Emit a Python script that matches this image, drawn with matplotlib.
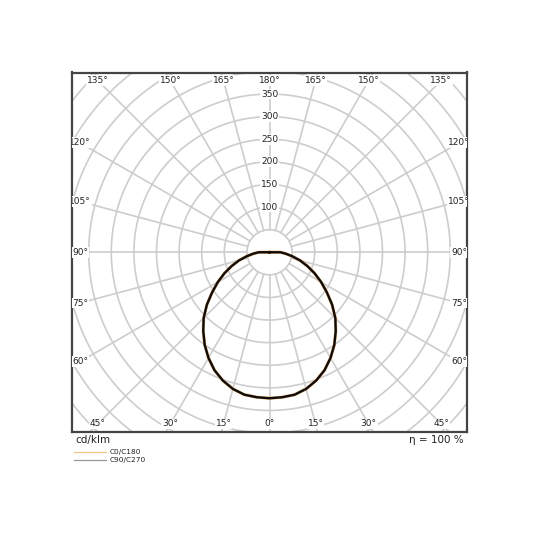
import numpy as np
import matplotlib
matplotlib.use("Agg")
import matplotlib.pyplot as plt

# Luminous intensity data (cd/klm), gamma angle from nadir
gamma = [0, 5, 10, 15, 20, 25, 30, 35, 40, 45, 50, 55, 60, 65, 70, 75, 80, 85, 90,
         95, 120, 140, 160, 180]
c0_c180 = [323, 322, 320, 313, 302, 288, 270, 250, 228, 206, 181, 155, 132, 110, 89, 70, 51, 36, 24,
           0, 0, 0, 0, 0]
c90_c270 = [323, 322, 320, 313, 302, 288, 270, 250, 228, 206, 181, 155, 132, 110, 89, 70, 51, 36, 24,
            0, 0, 0, 0, 0]
radial_labels = [100, 150, 200, 250, 300, 350]
angle_ticks = [0, 15, 30, 45, 60, 75, 90, 105, 120, 135, 150, 165, 180]
legend_names = ["C0/C180", "C90/C270"]
unit_text = "cd/klm"
eta_text = "η = 100 %"

W, H = 540, 540
fig = plt.figure(figsize=(5.4, 5.4), dpi=100)
x0, x1, y0, y1 = 72, 467, 72.5, 432
ax = fig.add_axes([x0 / W, 1 - y1 / H, (x1 - x0) / W, (y1 - y0) / H])
scale = 0.452  # px per cd
XL = (x1 - x0) / 2 / scale
YL = (y1 - y0) / 2 / scale
ax.set_xlim(-XL, XL)
ax.set_ylim(-YL, YL)
ax.set_aspect('equal')
ax.set_xticks([])
ax.set_yticks([])
for s in ax.spines.values():
    s.set_color('#444444')
    s.set_linewidth(1.6)

gc = '#cdcdcd'
glw = 1.2
# circles every 50 cd
t = np.linspace(0, 2 * np.pi, 400)
for r in np.arange(50, 700, 50):
    ax.plot(r * np.cos(t), r * np.sin(t), color=gc, lw=glw, zorder=1)
# spokes every 15 deg
for a in range(0, 360, 15):
    ar = np.radians(a)
    ax.plot([50 * np.sin(ar), 800 * np.sin(ar)], [-50 * np.cos(ar), -800 * np.cos(ar)],
            color=gc, lw=glw, zorder=1)

bbox = dict(boxstyle='square,pad=0.1', fc='white', ec='none')
for r in radial_labels:
    ax.text(0, r, str(r), ha='center', va='center', fontsize=6.5, color='#222222',
            bbox=bbox, zorder=3)

inset = 8 / scale
for a in angle_ticks:
    for side in ([1] if a in (0, 180) else [1, -1]):
        ar = np.radians(a)
        dx, dy = side * np.sin(ar), -np.cos(ar)
        tx = (XL - inset) / abs(dx) if abs(dx) > 1e-9 else np.inf
        ty = (YL - inset) / abs(dy) if abs(dy) > 1e-9 else np.inf
        tt = min(tx, ty)
        ax.text(tt * dx, tt * dy, f"{a}°", ha='center', va='center', fontsize=6.5,
                color='#222222', bbox=bbox, zorder=3, clip_on=True)

g = np.radians(np.array(gamma))
for vals, col, lw in [(c0_c180, '#e8a860', 2.2), (c90_c270, '#0d0d0d', 1.7)]:
    v = np.array(vals, dtype=float)
    xs = np.concatenate([-(v * np.sin(g))[::-1], v * np.sin(g)])
    ys = np.concatenate([(-v * np.cos(g))[::-1], -v * np.cos(g)])
    ax.plot(xs, ys, color=col, lw=lw, zorder=4, solid_joinstyle='round')

fig.text(75 / W, 1 - 440 / H, unit_text, ha='left', va='center', fontsize=7.5, color='#222222')
fig.text(464 / W, 1 - 440 / H, eta_text, ha='right', va='center', fontsize=7.5, color='#222222')

leg_cols = ['#f5c585', '#999999']
for i, (name, col) in enumerate(zip(legend_names, leg_cols)):
    yy = 1 - (452 + 8 * i) / H
    fig.add_artist(plt.Line2D([74 / W, 106 / W], [yy, yy], color=col, lw=0.9))
    fig.text(110 / W, yy, name, ha='left', va='center', fontsize=5.3, color='#222222')

fig.savefig('out.png', dpi=100, facecolor='white')
